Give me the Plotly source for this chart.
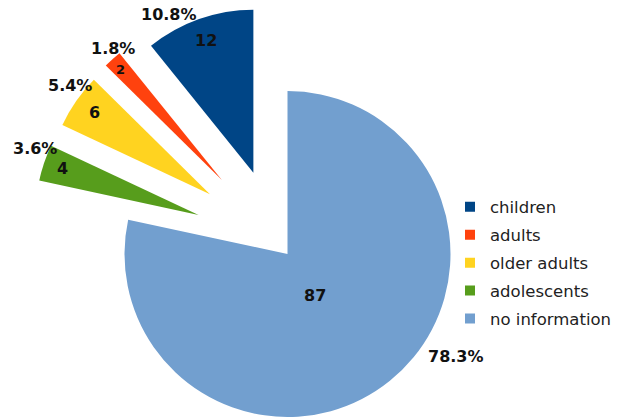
import math
import plotly.graph_objects as go

# --- data ---------------------------------------------------------------
categories = ["children", "adults", "older adults", "adolescents", "no information"]
counts = [12, 2, 6, 4, 87]

# --- styling / layout ---------------------------------------------------
colors = ["#004586", "#ff420e", "#ffd320", "#579d1c", "#729fcf"]
explode = [0.541, 0.607, 0.601, 0.596, 0.0]   # offset of each slice, fraction of radius
explode_turn = [3.3, -0.6, -2.8, -5.1, 0.0]   # deviation of the offset from the bisector, degrees
W, H = 619, 418
CX, CY, R = 287.5, 254.0, 163.0               # pie centre and radius in pixels
FONT = "DejaVu Sans"
TRANSPARENT = "rgba(0,0,0,0)"

# label anchor points in pixels (value label, percentage label)
value_pos = [(206, 40), (120, 69), (94, 112), (62.5, 169), (314.5, 295)]
value_size = [16, 13, 16, 16, 16]
pct_pos = [(168.5, 14.5), (113, 48.5), (69.5, 85.5), (35, 149), (455.5, 356)]

total = sum(counts)
# percentages shown with one decimal, truncated
pct_text = [f"{math.floor(c * 1000 / total) / 10:.1f}%" for c in counts]

fig = go.Figure()

# Slices run counter-clockwise from 12 o'clock in category order, which is the
# same as drawing the reversed list clockwise.
labels_cw = categories[::-1]
counts_cw = counts[::-1]

# One pie trace per slice: every trace has the full data so the angles are
# identical, but only its own slice is coloured; the trace's domain is moved
# outward (roughly along the slice bisector) to explode it.
cum = 0.0
for k, (cat, val) in enumerate(zip(categories, counts)):
    mid = (cum + val / 2) / total
    cum += val
    theta = 2 * math.pi * mid + math.radians(explode_turn[k])  # ccw from 12 o'clock
    off = explode[k] * R
    cx = CX - math.sin(theta) * off
    cy = CY - math.cos(theta) * off
    slice_colors = [colors[k] if lab == cat else TRANSPARENT for lab in labels_cw]
    fig.add_trace(go.Pie(
        labels=labels_cw,
        values=counts_cw,
        sort=False,
        direction="clockwise",
        rotation=0,
        marker=dict(colors=slice_colors, line=dict(width=0)),
        textinfo="none",
        hoverinfo="skip",
        showlegend=False,
        domain=dict(
            x=[(cx - R) / W, (cx + R) / W],
            y=[max(0.0, 1 - (cy + R) / H), min(1.0, 1 - (cy - R) / H)],
        ),
    ))

# legend entries
for k, cat in enumerate(categories):
    fig.add_trace(go.Scatter(
        x=[None], y=[None], mode="markers", name=cat,
        legendgroup=cat,
        marker=dict(symbol="square", size=10, color=colors[k]),
        hoverinfo="skip",
    ))

annotations = []
for k in range(len(counts)):
    vx, vy = value_pos[k]
    annotations.append(dict(
        x=vx / W, y=1 - vy / H, xref="paper", yref="paper",
        text=f"<b>{counts[k]}</b>", showarrow=False,
        xanchor="center", yanchor="middle",
        font=dict(family=FONT, size=value_size[k], color="#111111"),
    ))
    px, py = pct_pos[k]
    annotations.append(dict(
        x=px / W, y=1 - py / H, xref="paper", yref="paper",
        text=f"<b>{pct_text[k]}</b>", showarrow=False,
        xanchor="center", yanchor="middle",
        font=dict(family=FONT, size=16, color="#111111"),
    ))

fig.update_layout(
    width=W, height=H,
    margin=dict(l=0, r=0, t=0, b=0, pad=0),
    paper_bgcolor="white",
    plot_bgcolor="white",
    xaxis=dict(visible=False),
    yaxis=dict(visible=False),
    font=dict(family=FONT, color="#222222"),
    annotations=annotations,
    legend=dict(
        x=(470 - 20) / W, xanchor="left",
        y=1 - 189.5 / H, yanchor="top",
        font=dict(family=FONT, size=16.5, color="#222222"),
        tracegroupgap=3.5,
        bgcolor="rgba(0,0,0,0)",
    ),
)

fig.write_html("out.html")
